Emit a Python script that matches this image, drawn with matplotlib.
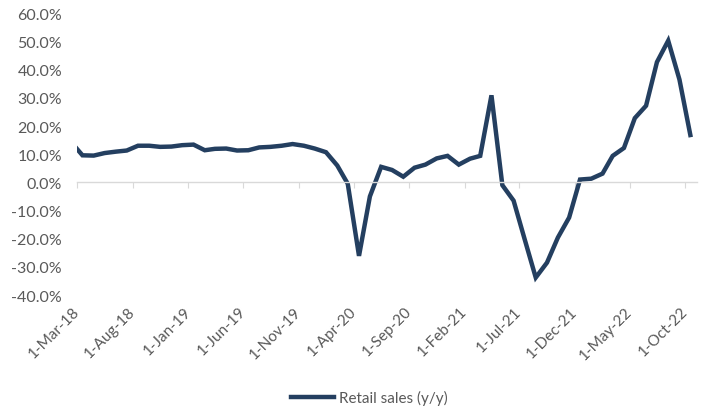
import pandas as pd
import matplotlib
matplotlib.use('Agg')
import matplotlib.pyplot as plt

# monthly retail sales y/y (%), Feb-18 .. Oct-22 (Feb-18 only shows as the clipped start)
months = pd.date_range('2018-02-01', '2022-10-01', freq='MS') + pd.Timedelta(days=14)
retail = [13.8, 9.6, 9.5, 10.4, 10.9, 11.3, 13.0, 13.0, 12.6, 12.7, 13.2,
          13.4, 11.4, 11.9, 12.0, 11.3, 11.4, 12.4, 12.6, 13.0, 13.6, 13.0, 12.0,
          10.7, 6.0, -0.5, -26.1, -5.0, 5.5, 4.4, 2.0, 5.2, 6.3, 8.5, 9.4,
          6.3, 8.4, 9.4, 30.9, -1.0, -6.5, -20.0, -33.8, -28.5, -19.6, -12.5, 1.0,
          1.3, 3.1, 9.4, 12.2, 22.8, 27.2, 42.7, 50.3, 36.5, 16.8]

tick_dates = pd.date_range('2018-03-01', '2022-10-01', freq='5MS')
tick_labels = [f"{d.day}-{d:%b-%y}" for d in tick_dates]
yticks = list(range(-40, 61, 10))

grey = '#595959'
plt.rcParams['font.family'] = ['Lato', 'DejaVu Sans']

fig = plt.figure(figsize=(7.1, 4.1), dpi=100)
ax = fig.add_axes([0.109, 0.278, 0.872, 0.687])

ax.plot(months, retail, color='#243F60', lw=3.2, solid_joinstyle='miter',
        label='Retail sales (y/y)')

ax.set_xlim(pd.Timestamp('2018-03-01'), pd.Timestamp('2022-11-01'))
ax.set_ylim(-40, 60)
ax.set_yticks(yticks)
ax.set_yticklabels([f"{v:.1f}%" for v in yticks])
ax.tick_params(axis='y', length=0, pad=11, labelsize=11.5, labelcolor=grey)

for s in ['left', 'top', 'right']:
    ax.spines[s].set_visible(False)
ax.spines['bottom'].set_position(('data', 0))
ax.spines['bottom'].set_color('#d9d9d9')
ax.spines['bottom'].set_linewidth(1.0)
ax.set_xticks(tick_dates)
ax.tick_params(axis='x', direction='out', length=4, color='#d9d9d9',
               labelbottom=False)

# labels sit at the bottom of the plot, like Excel's "low" label position
sec = ax.secondary_xaxis(0)
sec.set_xticks(tick_dates)
sec.set_xticklabels(tick_labels, rotation=45, ha='right', va='center',
                    rotation_mode='anchor')
sec.tick_params(length=0, pad=10, labelsize=11, labelcolor=grey)
sec.spines['bottom'].set_visible(False)

fig.legend(loc='lower center', bbox_to_anchor=(0.52, -0.025), frameon=False,
           handlelength=2.8, handletextpad=0.3, fontsize=11, labelcolor=grey)

fig.savefig('out.png', dpi=100)
